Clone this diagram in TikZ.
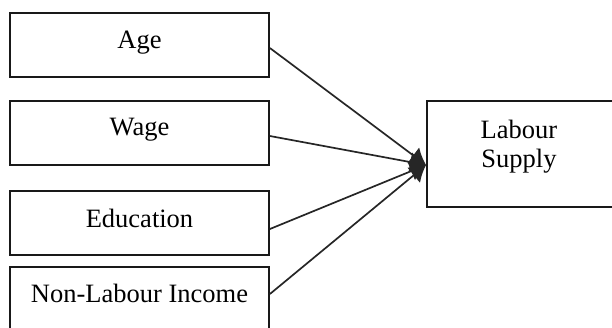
\documentclass[tikz,border=0pt]{standalone}
\usepackage{fontspec}
\setmainfont{Liberation Serif}
\usetikzlibrary{arrows.meta}
\begin{document}
\begin{tikzpicture}[x=1pt,y=-1pt,
  box/.style={draw=black!90,line width=1.8pt,rectangle,inner sep=0pt,minimum width=259pt,minimum height=64pt},
  txt/.style={anchor=base,inner sep=0pt,font=\fontsize{26.5}{29}\selectfont},
  link/.style={draw=black!85,line width=1.7pt,-{Latex[length=16pt,width=20pt]}}]
\useasboundingbox (0,0) rectangle (612,327);
\clip (0,0) rectangle (612,327);
\node[box] (age) at (139.5,45) {};
\node[box] (wage) at (139.5,133) {};
\node[box] (edu) at (139.5,223) {};
\node[box,minimum height=120pt] (nli) at (139.5,327) {};
\node[txt] (agetxt) at (139.5,48) {Age};
\node[txt] (wagetxt) at (139.5,135) {Wage};
\node[txt] (edutxt) at (139.5,227) {Education};
\node[txt] (nlitxt) at (139.5,302) {Non-Labour Income};
\node[draw=black!90,line width=1.8pt,rectangle,inner sep=0pt,minimum width=240pt,minimum height=106pt] (supply) at (547,154) {};
\node[txt,anchor=base,align=center] (supplytxt) at (519,167) {Labour\\Supply};
\coordinate (tip) at ([yshift=-11pt]supply.west);
\draw[link] (age.east |- 0,48) -- (tip);
\draw[link] (wage.east |- 0,136) -- (tip);
\draw[link] (edu.east |- 0,229) -- (tip);
\draw[link] (nli.east |- 0,294) -- (tip);
\end{tikzpicture}
\end{document}
